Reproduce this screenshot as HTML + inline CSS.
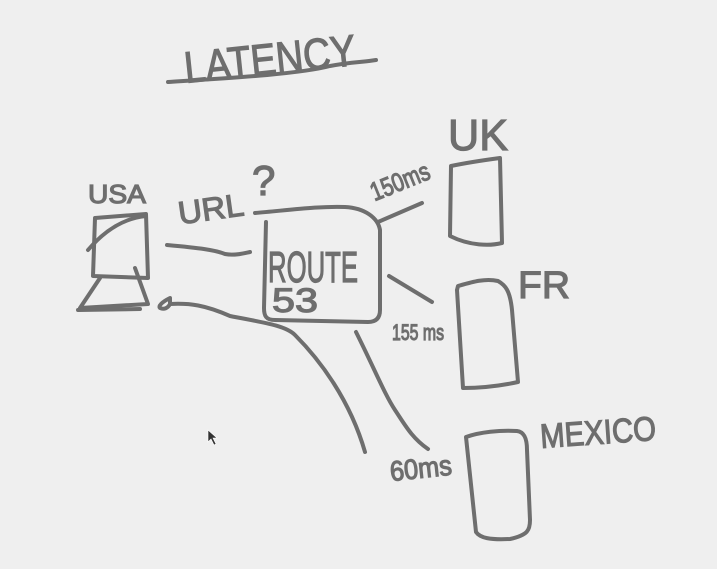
<!DOCTYPE html>
<html><head><meta charset="utf-8"><style>
html,body{margin:0;padding:0;background:#efefef;}
svg{display:block}
text{font-family:"Liberation Sans",sans-serif;fill:#6e6e6e;stroke:#6e6e6e;stroke-width:1.2;}
</style></head><body>
<svg width="717" height="569" viewBox="0 0 717 569" xmlns="http://www.w3.org/2000/svg">
<rect width="717" height="569" fill="#efefef"/>
<g fill="none" stroke="#6e6e6e" stroke-width="4" stroke-linecap="round" stroke-linejoin="round">
<path d="M168 82 C230 78 300 74 330 66 C350 62 365 62 376 60"/>
<path d="M95 218 L146 214 L148 278 L93 276 Z"/>
<path d="M88 250 C105 230 125 218 146 216"/>
<path d="M100 278 L80 308 L148 304 L135 268"/>
<path d="M78 310 L140 309"/>
<path d="M167 245 C200 248 215 250 225 254 C235 256 245 253 250 252"/>
<path d="M255 213 C290 210 320 206 345 207 C365 208 378 218 380 230 L380 310 C380 318 376 322 368 322 L275 320 C266 320 264 316 264 308 L266 222"/>
<path d="M378 222 L422 203"/>
<path d="M451 166 C470 162 485 160 500 158 L502 243 C490 246 470 246 450 236 Z"/>
<path d="M389 276 L432 302"/>
<path d="M457 290 L458 286 C472 282 485 278 498 281 C505 285 510 290 512 310 L518 382 C500 386 480 388 463 388 L457 290"/>
<path d="M356 332 C375 370 385 395 395 410 C405 425 412 438 428 449"/>
<path d="M466 437 C480 432 500 430 517 431 C525 432 527 440 527 450 L530 520 C530 530 528 535 510 539 C490 540 480 538 476 532 Z"/>
<path d="M170 304 C190 303 205 305 230 316 C260 322 285 325 295 335 C320 360 350 400 365 452"/>
<path d="M170 298 C162 302 158 306 160 308 C164 310 168 308 170 304 Z"/>
</g>
<path d="M208 430 L208 442 L211 439 L214 445 L216 444 L213 438 L217 438 Z" fill="#333" stroke="#fff" stroke-width="0.6"/>
<g>
<text x="184" y="74" font-size="44" textLength="172" lengthAdjust="spacingAndGlyphs" transform="rotate(-6 270 60)">LATENCY</text>
<text x="88" y="203" font-size="26" textLength="58" lengthAdjust="spacingAndGlyphs">USA</text>
<text x="178" y="220" font-size="32" textLength="66" lengthAdjust="spacingAndGlyphs" transform="rotate(-8 210 210)">URL</text>
<text x="252" y="195" font-size="42">?</text>
<text x="268" y="282" font-size="44" textLength="90" lengthAdjust="spacingAndGlyphs">ROUTE</text>
<text x="272" y="312" font-size="34" textLength="46" lengthAdjust="spacingAndGlyphs">53</text>
<text x="368" y="192" font-size="26" textLength="62" lengthAdjust="spacingAndGlyphs" transform="rotate(-22 395 180)">150ms</text>
<text x="448" y="150" font-size="44" textLength="60" lengthAdjust="spacingAndGlyphs">UK</text>
<text x="518" y="298" font-size="38" textLength="52" lengthAdjust="spacingAndGlyphs">FR</text>
<text x="392" y="340" font-size="22" textLength="52" lengthAdjust="spacingAndGlyphs">155 ms</text>
<text x="390" y="478" font-size="28" textLength="62" lengthAdjust="spacingAndGlyphs" transform="rotate(-6 420 470)">60ms</text>
<text x="540" y="444" font-size="34" textLength="116" lengthAdjust="spacingAndGlyphs" transform="rotate(-4 598 432)">MEXICO</text>
</g>
</svg>
</body></html>
